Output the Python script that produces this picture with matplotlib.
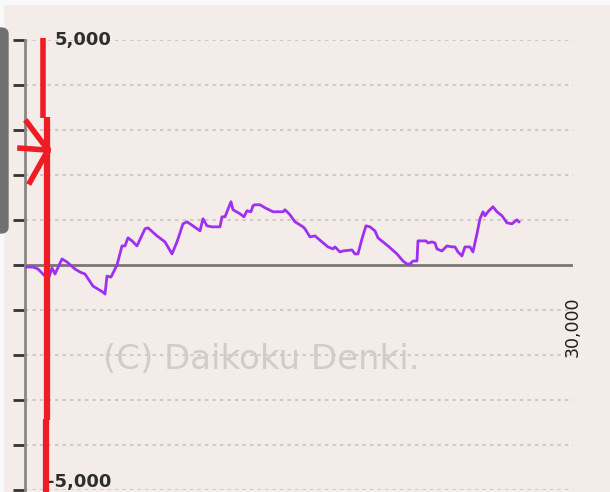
import matplotlib
matplotlib.use("Agg")
import matplotlib.pyplot as plt
from matplotlib.patches import FancyBboxPatch

# slot data graph: games played vs coin difference
games = [109, 438, 712, 1095, 1314, 1478, 1642, 2025, 2299, 2737,
         3011, 3284, 3722, 4270, 4379, 4489, 4708, 5036, 5310, 5474,
         5638, 5857, 6131, 6569, 6733, 7226, 7664, 8047, 8320, 8649,
         8868, 9196, 9580, 9744, 9963, 10236, 10674, 10784, 10948, 11057,
         11276, 11386, 11769, 11988, 12152, 12371, 12481, 12590, 12864, 13138,
         13576, 14123, 14232, 14506, 14780, 15218, 15327, 15601, 15875, 16258,
         16586, 16860, 16969, 17243, 17407, 17900, 18064, 18228, 18447, 18666,
         18885, 19159, 19323, 19597, 19871, 20364, 20692, 20911, 21075, 21239,
         21458, 21513, 21732, 21951, 22060, 22279, 22443, 22553, 22826, 23100,
         23374, 23538, 23702, 23921, 24085, 24359, 24523, 24742, 24907, 25071,
         25180, 25345, 25618, 25837, 26111, 26385, 26658, 26932, 27042]
coins = [-45, -45, -89, -246, -268, -67, -201, 134, 67, -89,
         -156, -201, -469, -603, -647, -246, -268, 0, 424, 424,
         603, 536, 424, 804, 826, 647, 513, 246, 513, 915,
         960, 870, 759, 1027, 870, 848, 848, 1071, 1071, 1183,
         1406, 1228, 1138, 1071, 1205, 1183, 1317, 1339, 1339, 1272,
         1183, 1183, 1228, 1116, 960, 848, 804, 625, 647, 513,
         402, 357, 402, 290, 312, 335, 246, 246, 580, 870,
         848, 759, 603, 513, 424, 246, 89, 22, 22, 89,
         89, 536, 536, 536, 491, 513, 491, 357, 312, 424,
         402, 402, 290, 201, 402, 402, 290, 692, 1027, 1183,
         1094, 1183, 1295, 1183, 1094, 937, 915, 1004, 960]

y_ticks = [-5000, -4000, -3000, -2000, -1000, 0, 1000, 2000, 3000, 4000, 5000]
x_max = 30000

bg = '#f4ece8'
fig = plt.figure(figsize=(6.1, 4.92), dpi=100)
fig.patch.set_facecolor(bg)

# white strips at the top / left edge and the grey tab of the page
fig.add_artist(plt.Rectangle((0, 1 - 4 / 492), 1, 4 / 492, transform=fig.transFigure,
                             color='#f9f9f9', zorder=0))
fig.add_artist(plt.Rectangle((0, 0), 3 / 610, 1, transform=fig.transFigure,
                             color='#f9f9f9', zorder=0))
fig.add_artist(FancyBboxPatch((-10 / 610, 1 - 233 / 492), 18 / 610, 205 / 492,
                              boxstyle='round,pad=0,rounding_size=0.012',
                              transform=fig.transFigure, color='#707070', zorder=1))

ax = fig.add_axes([25 / 610, 2 / 492, 548 / 610, 450 / 492])
ax.set_facecolor('none')
ax.set_xlim(0, x_max)
ax.set_ylim(-5000, 5000)

for s in ['top', 'right', 'bottom']:
    ax.spines[s].set_visible(False)
ax.spines['left'].set_color('#8a8684')
ax.spines['left'].set_linewidth(2)
ax.spines['left'].set_bounds(-5300, 5000)

ax.set_yticks(y_ticks)
ax.set_yticklabels([])
ax.tick_params(axis='y', length=9, width=2, color='#333333')
ax.set_xticks([])

for v in y_ticks:
    if v != 0:
        ax.axhline(v, color='#c9c2be', lw=1.2, ls=(0, (2, 2.5)), zorder=1)
ax.axhline(0, color='#7a7674', lw=2, zorder=2)

ax.text(0.432, -2100, '(C) Daikoku Denki.', transform=ax.get_yaxis_transform(),
        fontsize=24.5, color='#d3cbc7', ha='center', va='center',
        family='DejaVu Sans', zorder=1)

ax.plot(games, coins, color='#a030f0', lw=2, zorder=3)

ax.text(0.0547, 5000, '5,000', transform=ax.get_yaxis_transform(),
        fontsize=13, fontweight='bold', color='#2e2e2e', ha='left', va='center')
ax.text(0.040, -5030, '-5,000', transform=ax.get_yaxis_transform(),
        fontsize=13, fontweight='bold', color='#2e2e2e', ha='left', va='bottom',
        clip_on=False)
ax.text(x_max, -700, '30,000', rotation=90, fontsize=12.5, color='#1e1e1e',
        ha='center', va='top')

# hand-drawn red marks
red = '#ee1c24'
ax.plot([985, 985], [5040, 3260], color=red, lw=4, clip_on=False, zorder=5,
        solid_capstyle='butt')
ax.plot([1204, 1204], [3290, -3440], color=red, lw=4.5, clip_on=False, zorder=5,
        solid_capstyle='butt')
ax.plot([1150, 1150], [-3420, -5200], color=red, lw=4.5, clip_on=False, zorder=5,
        solid_capstyle='butt')
ax.plot([-274, 1259], [2597, 2553], color=red, lw=4, clip_on=False, zorder=5)
ax.plot([109, 1259, 274], [3175, 2553, 1843], color=red, lw=4, clip_on=False, zorder=5)

fig.savefig('out.png', dpi=100, facecolor=fig.get_facecolor())
